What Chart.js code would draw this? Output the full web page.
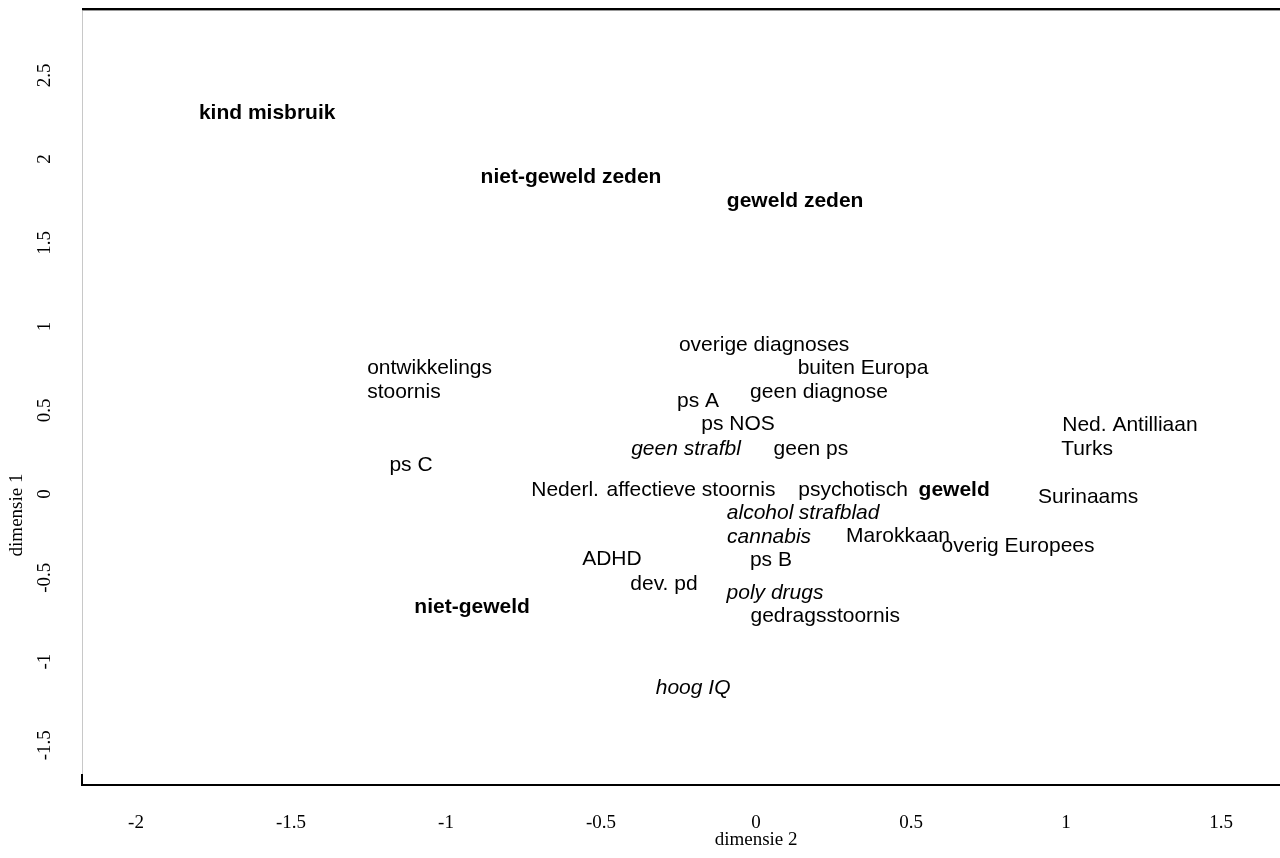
<!DOCTYPE html>
<html><head><meta charset="utf-8">
<script src="https://cdn.jsdelivr.net/npm/chart.js@4/dist/chart.umd.min.js"></script>
<style>html,body{margin:0;padding:0;background:#fff;}#wrap{width:1280px;height:858px;position:relative}</style>
</head><body><div id="wrap"><canvas id="c" width="1280" height="858"></canvas></div>
<script>
// ---- data ----
const LABELS = ['kind misbruik','niet-geweld zeden','geweld zeden','overige diagnoses','buiten Europa',
  'ontwikkelings\nstoornis','geen diagnose','ps A','ps NOS','Ned. Antilliaan','geen strafbl','geen ps','Turks',
  'ps C','Nederl.','affectieve stoornis','psychotisch','geweld','Surinaams','alcohol','strafblad','cannabis',
  'Marokkaan','overig Europees','ADHD','ps B','dev. pd','poly drugs','niet-geweld','gedragsstoornis','hoog IQ'];
const DIM2 = [-1.577,-0.597,0.126,0.026,0.345,-1.053,0.203,-0.187,-0.058,1.206,-0.226,0.177,1.068,
  -1.113,-0.616,-0.210,0.313,0.639,1.071,0.013,0.268,0.042,0.458,0.845,-0.465,0.048,-0.297,0.061,-0.916,0.223,-0.203];
const DIM1 = [2.263,1.881,1.737,0.878,0.740,0.669,0.597,0.543,0.406,0.400,0.257,0.257,0.257,
  0.161,0.012,0.012,0.012,0.012,-0.030,-0.125,-0.125,-0.269,-0.263,-0.322,-0.400,-0.406,-0.549,-0.603,-0.687,-0.740,-1.170];
const STYLES = ['bold','bold','bold','normal','normal','normal','normal','normal','normal','normal','italic','normal','normal',
  'normal','normal','normal','normal','bold','normal','italic','italic','italic','normal','normal','normal','normal','normal','italic','bold','normal','italic'];
const X_TICKS = [-2,-1.5,-1,-0.5,0,0.5,1,1.5];
const Y_TICKS = [-1.5,-1,-0.5,0,0.5,1,1.5,2,2.5];
const X_TITLE = 'dimensie 2';
const Y_TITLE = 'dimensie 1';
const X_MIN = -2.171, X_MAX = 1.690, Y_MIN = -1.749, Y_MAX = 2.884;

const SERIF = '"Liberation Serif", "Times New Roman", serif';
const SANS = '"Liberation Sans", Arial, sans-serif';

const points = DIM2.map((x, i) => ({x: x, y: DIM1[i]}));

const decor = {
  id: 'decor',
  beforeDatasetsDraw(chart) {
    const ctx = chart.ctx, a = chart.chartArea;
    ctx.save();
    // frame
    ctx.fillStyle = '#c8c8c8';
    ctx.fillRect(a.left - 1, a.top, 1, a.bottom - a.top);
    ctx.fillStyle = '#000';
    ctx.fillRect(a.left - 1, a.top - 1, a.right - a.left + 1, 2);
    ctx.fillStyle = '#999';
    ctx.fillRect(a.left - 1, a.top + 1, a.right - a.left + 1, 1);
    ctx.fillStyle = '#000';
    ctx.fillRect(a.left - 2, a.bottom - 11, 2, 12);
    ctx.fillRect(a.left - 2, a.bottom - 1, a.right - a.left + 2, 2);
    // y tick labels
    const ys = chart.scales.y;
    ctx.font = '19px ' + SERIF;
    ctx.textAlign = 'center';
    ctx.textBaseline = 'middle';
    Y_TICKS.forEach(v => {
      const py = ys.getPixelForValue(v);
      ctx.save();
      ctx.translate(45, py + 2);
      ctx.rotate(-Math.PI / 2);
      ctx.fillText(String(v), 0, 0);
      ctx.restore();
    });
    // titles
    ctx.save();
    ctx.translate(17, 515);
    ctx.rotate(-Math.PI / 2);
    ctx.fillText(Y_TITLE, 0, 0);
    ctx.restore();
    ctx.fillText(X_TITLE, chart.scales.x.getPixelForValue(0), 840);
    ctx.restore();
  },
  afterDatasetsDraw(chart) {
    const ctx = chart.ctx;
    const meta = chart.getDatasetMeta(0);
    ctx.save();
    ctx.fillStyle = '#000';
    ctx.textBaseline = 'middle';
    meta.data.forEach((el, i) => {
      ctx.font = (STYLES[i] === 'bold' ? 'bold ' : STYLES[i] === 'italic' ? 'italic ' : '') + '21px ' + SANS;
      const lines = LABELS[i].split('\n');
      if (lines.length === 1) {
        ctx.textAlign = 'center';
        ctx.fillText(lines[0], el.x, el.y);
      } else {
        const w = Math.max(...lines.map(l => ctx.measureText(l).width));
        ctx.textAlign = 'left';
        lines.forEach((l, k) => ctx.fillText(l, el.x - w / 2, el.y + (k - (lines.length - 1) / 2) * 24));
      }
    });
    ctx.restore();
  }
};

new Chart(document.getElementById('c'), {
  type: 'scatter',
  data: { datasets: [{ data: points, pointRadius: 0, pointHoverRadius: 0, showLine: false }] },
  options: {
    responsive: false, animation: false, devicePixelRatio: 1,
    layout: { padding: { top: 9, right: 0, left: 0, bottom: 0 } },
    plugins: { legend: { display: false }, tooltip: { enabled: false } },
    scales: {
      x: {
        type: 'linear', min: X_MIN, max: X_MAX,
        afterBuildTicks: s => { s.ticks = X_TICKS.map(v => ({ value: v })); },
        afterFit: s => { s.height = 73; },
        grid: { display: false, drawTicks: false }, border: { display: false },
        ticks: { color: '#000', font: { family: SERIF, size: 19 }, padding: 27, maxRotation: 0, autoSkip: false,
          callback: v => String(v) }
      },
      y: {
        type: 'linear', min: Y_MIN, max: Y_MAX,
        afterBuildTicks: s => { s.ticks = Y_TICKS.map(v => ({ value: v })); },
        afterFit: s => { s.width = 83; },
        grid: { display: false, drawTicks: false }, border: { display: false },
        ticks: { display: false }
      }
    }
  },
  plugins: [decor]
});
</script></body></html>
